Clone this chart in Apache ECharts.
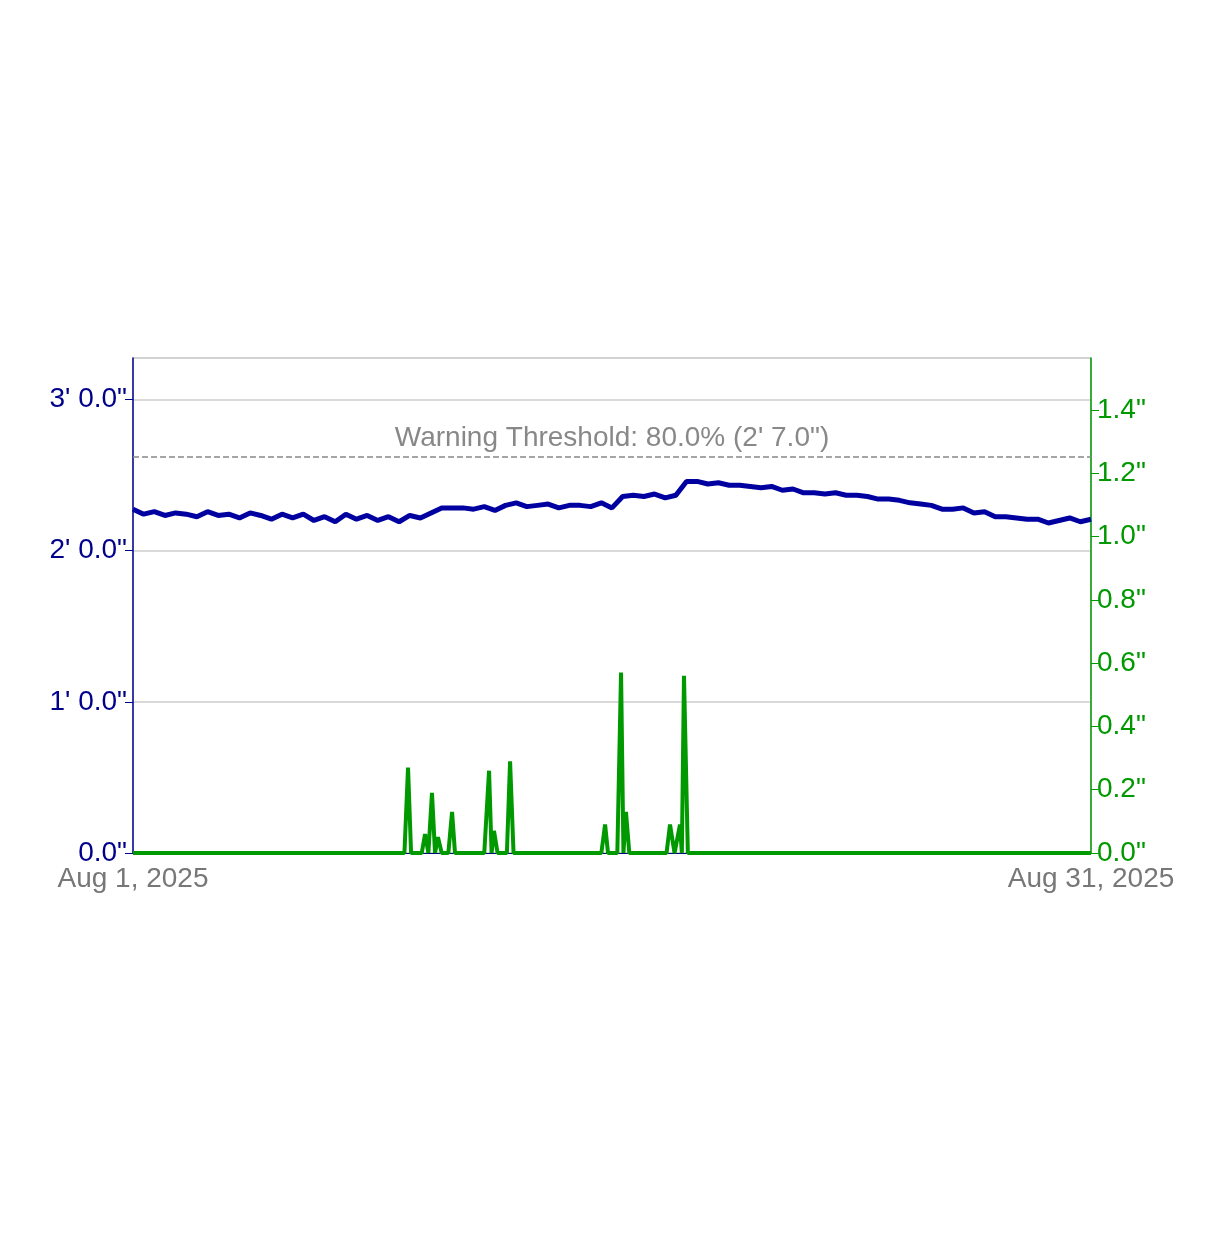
<!DOCTYPE html>
<html>
<head>
<meta charset="utf-8">
<script src="https://cdn.jsdelivr.net/npm/echarts@6/dist/echarts.min.js"></script>
<style>html,body{margin:0;background:#fff}#main{width:1214px;height:1233px}</style>
</head>
<body>
<div id="main"></div>
<script>
// hours since Aug 1, 2025 00:00 (every 8 hours)
const levelValues = [
  27.3, 26.9, 27.1, 26.8, 27.0, 26.9, 26.7, 27.1, 26.8, 26.9, 26.6, 27.0,
  26.8, 26.5, 26.9, 26.6, 26.9, 26.4, 26.7, 26.3, 26.9, 26.5, 26.8, 26.4,
  26.7, 26.3, 26.8, 26.6, 27.0, 27.4, 27.4, 27.4, 27.3, 27.5, 27.2, 27.6,
  27.8, 27.5, 27.6, 27.7, 27.4, 27.6, 27.6, 27.5, 27.8, 27.4, 28.3, 28.4,
  28.3, 28.5, 28.2, 28.4, 29.5, 29.5, 29.3, 29.4, 29.2, 29.2, 29.1, 29.0,
  29.1, 28.8, 28.9, 28.6, 28.6, 28.5, 28.6, 28.4, 28.4, 28.3, 28.1, 28.1,
  28.0, 27.8, 27.7, 27.6, 27.3, 27.3, 27.4, 27.0, 27.1, 26.7, 26.7, 26.6,
  26.5, 26.5, 26.2, 26.4, 26.6, 26.3, 26.5
]
const rainHours = [0, 204, 206.7, 209, 217, 219.5, 222, 224.7, 227, 229.2, 232, 237, 239.8, 242, 264, 267.6, 269.5, 271.3, 274, 281, 283.4, 286, 352, 354.8, 357, 364, 366.8, 368.6, 370.5, 373, 401, 403.6, 407, 411.1, 412.5, 414.1, 417, 720]
const rainValues = [0, 0, 0.27, 0, 0, 0.06, 0, 0.19, 0, 0.05, 0, 0, 0.13, 0, 0, 0.26, 0, 0.07, 0, 0, 0.29, 0, 0, 0.09, 0, 0, 0.57, 0, 0.13, 0, 0, 0.09, 0, 0.09, 0, 0.56, 0, 0]
const xLabels = ['Aug 1, 2025', 'Aug 31, 2025']
const threshold = 31.44

const font = 'Liberation Sans'
const chart = echarts.init(document.getElementById('main'))
chart.setOption({
  animation: false,
  grid: { left: 133, right: 123, top: 358, bottom: 380, show: true, borderColor: '#ccc', borderWidth: 1 },
  xAxis: {
    type: 'value', min: 0, max: 720, interval: 720,
    axisLine: { lineStyle: { color: '#00008b' } },
    axisTick: { show: false },
    splitLine: { show: false },
    axisLabel: { fontFamily: font, fontSize: 28, color: '#777', margin: 12,
      formatter: v => v === 0 ? xLabels[0] : xLabels[1] }
  },
  yAxis: [{
    type: 'value', min: 0, max: 39.3, interval: 12,
    axisLine: { show: true, lineStyle: { color: '#00008b', width: 1.5 } },
    axisTick: { show: true, length: 8, lineStyle: { color: '#00008b' } },
    splitLine: { lineStyle: { color: '#ccc', width: 1.5 } },
    axisLabel: { fontFamily: font, fontSize: 28, color: '#00008b', margin: 6, showMaxLabel: false,
      formatter: v => v > 39 ? '' : v === 0 ? '0.0"' : `${Math.floor(v / 12)}' ${(v % 12).toFixed(1)}"` }
  }, {
    type: 'value', min: 0, max: 1.564, interval: 0.2, position: 'right',
    axisLine: { show: true, lineStyle: { color: '#009900', width: 1.5 } },
    axisTick: { show: true, length: 8, lineStyle: { color: '#009900' } },
    splitLine: { show: false },
    axisLabel: { fontFamily: font, fontSize: 28, color: '#009900', margin: 6, showMaxLabel: false,
      formatter: v => v > 1.5 ? '' : v.toFixed(1) + '"' }
  }],
  series: [{
    type: 'line', yAxisIndex: 0, symbol: 'none',
    data: levelValues.map((v, i) => [i * 8, v]),
    lineStyle: { color: '#0000a0', width: 5 },
    markLine: {
      symbol: 'none', silent: true,
      lineStyle: { color: '#888', type: 'dashed', width: 1.5 },
      label: { position: 'middle', fontFamily: font, fontSize: 28, color: '#888',
        formatter: 'Warning Threshold: 80.0% (2\' 7.0")' },
      data: [{ yAxis: threshold }]
    }
  }, {
    type: 'line', yAxisIndex: 1, symbol: 'none',
    data: rainHours.map((h, i) => [h, rainValues[i]]),
    lineStyle: { color: '#009900', width: 4 }
  }]
})
</script>
</body>
</html>
